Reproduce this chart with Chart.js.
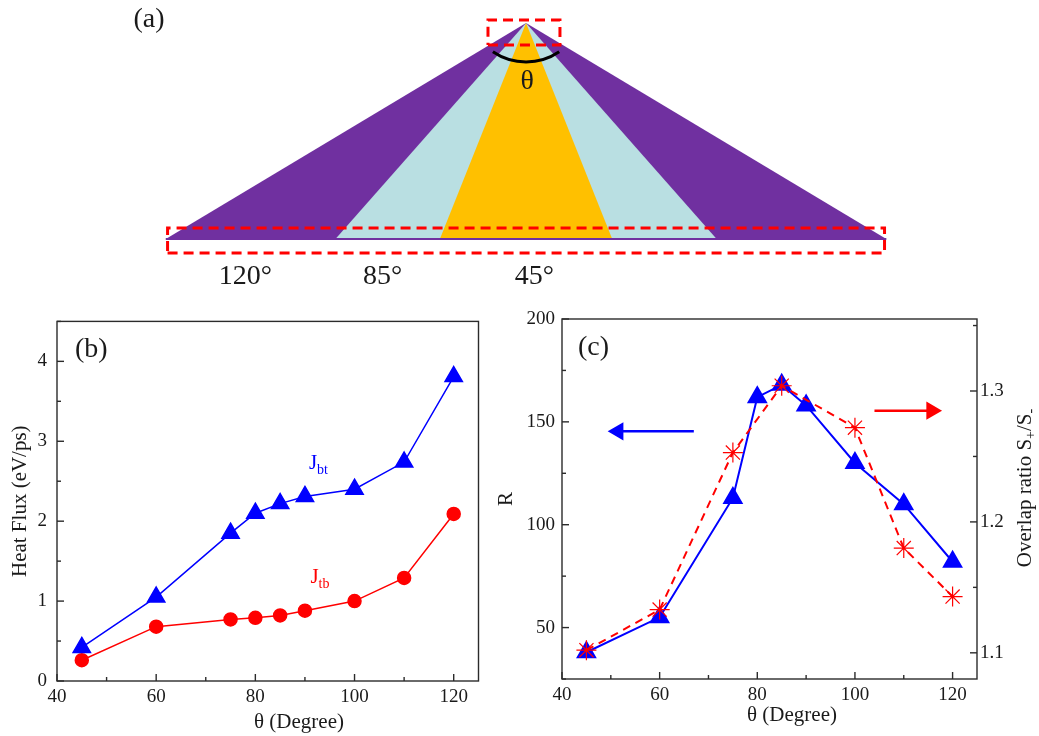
<!DOCTYPE html>
<html>
<head>
<meta charset="utf-8">
<title>Cone angle: heat flux and rectification</title>
<script src="https://cdn.jsdelivr.net/npm/chart.js@4.4.1/dist/chart.umd.min.js"></script>
<style>
  html, body { margin: 0; padding: 0; background: #fff; }
  #page { position: relative; width: 1039px; height: 736px; overflow: hidden; }
  canvas { position: absolute; }
  #cone { left: 0; top: 0; }
  #flux { left: 0; top: 300px; }
  #ratio { left: 490px; top: 300px; }
</style>
</head>
<body>
<div id="page">
  <canvas id="cone" width="1039" height="300"></canvas>
  <canvas id="flux" width="490" height="436"></canvas>
  <canvas id="ratio" width="549" height="436"></canvas>
</div>
<script>
/* ---- (a) cone sketch: full opening angles ---- */
const coneAngles = [120, 85, 45];
const coneColors = ['#7030a0', '#b9dfe2', '#ffc000'];
const coneLabelX = [-1.35, -0.69, 0.04];

/* ---- (b) heat flux ---- */
const thetaB = [45, 60, 75, 80, 85, 90, 100, 110, 120];
const fluxBT = [0.42, 1.05, 1.85, 2.10, 2.22, 2.31, 2.40, 2.74, 3.81];
const fluxTB = [0.26, 0.68, 0.77, 0.79, 0.82, 0.88, 1.00, 1.29, 2.09];

/* ---- (c) rectification ratio R and overlap ratio ---- */
const thetaR = [45, 60, 75, 80, 85, 90, 100, 110, 120];
const ratioR = [38, 55, 113, 162, 168, 158, 130, 110, 82];
const thetaS = [45, 60, 75, 85, 100, 110, 120];
const overlapS = [1.102, 1.133, 1.253, 1.304, 1.272, 1.180, 1.143];

// arrows telling which axis each curve belongs to
const arrowLeftX = [67, 51.5];
const arrowLeftY = [145.4, 145.4];
const arrowRightX = [104, 115.7];
const arrowRightY = [1.285, 1.285];

const BLUE = '#0000ff';
const RED = '#ff0000';
const family = "'Liberation Serif', 'Times New Roman', serif";

Chart.defaults.font.family = family;
Chart.defaults.color = '#1a1a1a';
Chart.defaults.animation = false;
Chart.defaults.events = [];

function pairs(xs, ys) {
    return xs.map((x, i) => ({ x, y: ys[i] }));
}

// closed frame plus inward tick marks (long for labelled ticks)
const frame = {
    id: 'frame',
    beforeDatasetsDraw(chart) {
        const { ctx, chartArea: a } = chart;
        ctx.save();
        ctx.strokeStyle = '#2b2b2b';
        ctx.lineWidth = 1.4;
        ctx.strokeRect(a.left, a.top, a.right - a.left, a.bottom - a.top);
        for (const s of Object.values(chart.scales)) {
            for (const t of s.ticks) {
                const len = t.label !== '' ? 7 : 4;
                const p = s.getPixelForValue(t.value);
                ctx.beginPath();
                if (s.position === 'bottom') { ctx.moveTo(p, a.bottom); ctx.lineTo(p, a.bottom - len); }
                if (s.position === 'left') { ctx.moveTo(a.left, p); ctx.lineTo(a.left + len, p); }
                if (s.position === 'right') { ctx.moveTo(a.right, p); ctx.lineTo(a.right - len, p); }
                ctx.stroke();
            }
        }
        ctx.restore();
    }
};

// free text with optional subscripts; runs = [[text, isSub], ...]
const notes = {
    id: 'notes',
    afterDatasetsDraw(chart, args, opts) {
        const ctx = chart.ctx;
        for (const n of opts.items || []) {
            const [x, y] = n.pos(chart);
            const big = `${n.size}px ${family}`;
            const small = `${Math.round(n.size * 0.68)}px ${family}`;
            let total = 0;
            for (const [t, sub] of n.runs) {
                ctx.font = sub ? small : big;
                total += ctx.measureText(t).width;
            }
            ctx.save();
            ctx.translate(x, y);
            if (n.rotate) ctx.rotate(n.rotate);
            ctx.fillStyle = n.color || '#1a1a1a';
            ctx.textBaseline = 'middle';
            ctx.textAlign = 'left';
            let cx = n.align === 'left' ? 0 : -total / 2;
            for (const [t, sub] of n.runs) {
                ctx.font = sub ? small : big;
                ctx.fillText(t, cx, sub ? n.size * 0.3 : 0);
                cx += ctx.measureText(t).width;
            }
            ctx.restore();
        }
    }
};

const at = (xv, yv, yId = 'y') => c => [c.scales.x.getPixelForValue(xv), c.scales[yId].getPixelForValue(yv)];

/* ================= (a) ================= */
const half = a => Math.tan(a / 2 * Math.PI / 180);
const wide = half(coneAngles[0]);

function dashedBox(x0, x1, y0, y1) {
    return {
        data: [{ x: x0, y: y0 }, { x: x1, y: y0 }, { x: x1, y: y1 }, { x: x0, y: y1 }, { x: x0, y: y0 }],
        borderColor: RED, borderWidth: 3, borderDash: [10, 6],
        pointRadius: 0, fill: false, tension: 0
    };
}

const coneSets = coneAngles.map((a, i) => ({
    data: [{ x: -half(a), y: 0 }, { x: 0, y: 1 }, { x: half(a), y: 0 }],
    backgroundColor: coneColors[i],
    borderColor: 'rgba(0,0,0,0)', borderWidth: 0,
    pointRadius: 0, tension: 0, fill: { value: 0 }
})).reverse();

const thetaArc = {
    id: 'thetaArc',
    afterDatasetsDraw(chart) {
        const { ctx, scales } = chart;
        const cx = scales.x.getPixelForValue(0);
        const cy = scales.y.getPixelForValue(1) - 20;
        ctx.save();
        ctx.strokeStyle = '#000';
        ctx.lineWidth = 3;
        ctx.beginPath();
        ctx.arc(cx, cy, 59, 0.31 * Math.PI, 0.69 * Math.PI);
        ctx.stroke();
        ctx.restore();
    }
};

new Chart(document.getElementById('cone'), {
    type: 'line',
    data: {
        datasets: [
            dashedBox(-0.183, 0.163, 0.898, 1.014),
            dashedBox(-wide * 0.995, wide * 0.995, -0.065, 0.051),
            {
                data: [{ x: -wide, y: 0 }, { x: wide, y: 0 }],
                borderColor: coneColors[0], borderWidth: 2, pointRadius: 0, fill: false
            },
            ...coneSets
        ]
    },
    options: {
        responsive: false,
        layout: { padding: 0 },
        scales: {
            x: { type: 'linear', display: false, min: -2.529, max: 2.466 },
            y: { type: 'linear', display: false, min: -0.282, max: 1.106 }
        },
        plugins: {
            legend: { display: false },
            tooltip: { enabled: false },
            notes: {
                items: [
                    { runs: [['(a)', 0]], size: 28, pos: c => [149, 20] },
                    { runs: [['θ', 0]], size: 28, pos: at(0.005, 0.73) },
                    ...coneAngles.map((a, i) => ({ runs: [[a + '°', 0]], size: 28, pos: at(coneLabelX[i], -0.176) }))
                ]
            }
        }
    },
    plugins: [thetaArc, notes]
});

/* ================= (b) ================= */
const tickFont = { size: 19 };
const titleFont = { size: 21 };

new Chart(document.getElementById('flux'), {
    type: 'line',
    data: {
        datasets: [
            {
                data: pairs(thetaB, fluxBT),
                borderColor: BLUE, borderWidth: 1.5,
                pointStyle: 'triangle', pointRadius: 10,
                pointBackgroundColor: BLUE, pointBorderColor: BLUE, tension: 0
            },
            {
                data: pairs(thetaB, fluxTB),
                borderColor: RED, borderWidth: 1.5,
                pointStyle: 'circle', pointRadius: 6.5,
                pointBackgroundColor: RED, pointBorderColor: RED, tension: 0
            }
        ]
    },
    options: {
        responsive: false,
        layout: { padding: { top: 17, right: 6, left: 0, bottom: 0 } },
        scales: {
            x: {
                type: 'linear', position: 'bottom', min: 40, max: 125,
                afterFit: s => { s.height = 55; },
                grid: { display: false, drawTicks: false }, border: { display: false },
                ticks: {
                    stepSize: 10, includeBounds: false, autoSkip: false, maxRotation: 0,
                    padding: 5, font: tickFont,
                    callback: v => v % 20 === 0 ? String(v) : ''
                }
            },
            y: {
                type: 'linear', position: 'left', min: 0, max: 4.5,
                afterFit: s => { s.width = 57; },
                grid: { display: false, drawTicks: false }, border: { display: false },
                ticks: {
                    stepSize: 0.5, includeBounds: false, autoSkip: false,
                    padding: 10, font: tickFont,
                    callback: v => Number.isInteger(v) ? String(v) : ''
                },
                title: { display: true, text: 'Heat Flux (eV/ps)', font: titleFont, padding: { top: 8, bottom: 0 } }
            }
        },
        plugins: {
            legend: { display: false },
            tooltip: { enabled: false },
            notes: {
                items: [
                    { runs: [['(b)', 0]], size: 28, align: 'left', pos: c => [c.chartArea.left + 18, c.chartArea.top + 28] },
                    { runs: [['θ (Degree)', 0]], size: 21, pos: c => [c.chartArea.left + 242, c.height - 14] },
                    { runs: [['J', 0], ['bt', 1]], size: 21, align: 'left', color: BLUE, pos: at(90.8, 2.72) },
                    { runs: [['J', 0], ['tb', 1]], size: 21, align: 'left', color: RED, pos: at(91.1, 1.29) }
                ]
            }
        }
    },
    plugins: [frame, notes]
});

/* ================= (c) ================= */
new Chart(document.getElementById('ratio'), {
    type: 'line',
    data: {
        datasets: [
            {
                data: pairs(thetaS, overlapS), yAxisID: 'yR',
                borderColor: RED, borderWidth: 2, borderDash: [8, 6],
                pointStyle: 'star', pointRadius: 10, pointBorderWidth: 1.2,
                pointBorderColor: RED, pointBackgroundColor: RED, tension: 0
            },
            {
                data: pairs(thetaR, ratioR), yAxisID: 'y',
                borderColor: BLUE, borderWidth: 2,
                pointStyle: 'triangle', pointRadius: 10,
                pointBackgroundColor: BLUE, pointBorderColor: BLUE, tension: 0
            },
            {
                data: pairs(arrowLeftX, arrowLeftY), yAxisID: 'y',
                borderColor: BLUE, borderWidth: 2.5,
                pointStyle: 'triangle', pointRadius: [0, 8], pointRotation: -90,
                pointBackgroundColor: BLUE, pointBorderColor: BLUE
            },
            {
                data: pairs(arrowRightX, arrowRightY), yAxisID: 'yR',
                borderColor: RED, borderWidth: 2.5,
                pointStyle: 'triangle', pointRadius: [0, 8], pointRotation: 90,
                pointBackgroundColor: RED, pointBorderColor: RED
            }
        ]
    },
    options: {
        responsive: false,
        layout: { padding: { top: 19, right: 0, left: 0, bottom: 0 } },
        scales: {
            x: {
                type: 'linear', position: 'bottom', min: 40, max: 125,
                afterFit: s => { s.height = 57; },
                grid: { display: false, drawTicks: false }, border: { display: false },
                ticks: {
                    stepSize: 10, includeBounds: false, autoSkip: false, maxRotation: 0,
                    padding: 5, font: tickFont,
                    callback: v => v % 20 === 0 ? String(v) : ''
                }
            },
            y: {
                type: 'linear', position: 'left', min: 25, max: 200,
                afterFit: s => { s.width = 72; },
                grid: { display: false, drawTicks: false }, border: { display: false },
                ticks: {
                    stepSize: 25, includeBounds: false, autoSkip: false,
                    padding: 7, font: tickFont,
                    callback: v => v % 50 === 0 ? String(v) : ''
                },
                title: { display: true, text: 'R', font: titleFont, padding: { top: 4, bottom: 0 } }
            },
            yR: {
                type: 'linear', position: 'right', min: 1.08, max: 1.355,
                afterFit: s => { s.width = 62; },
                grid: { display: false, drawTicks: false }, border: { display: false },
                ticks: {
                    stepSize: 0.05, includeBounds: false, autoSkip: false,
                    padding: 3, font: tickFont,
                    callback: v => Math.abs(v * 10 - Math.round(v * 10)) < 1e-6 ? v.toFixed(1) : ''
                }
            }
        },
        plugins: {
            legend: { display: false },
            tooltip: { enabled: false },
            notes: {
                items: [
                    { runs: [['(c)', 0]], size: 28, align: 'left', pos: c => [c.chartArea.left + 16, c.chartArea.top + 29] },
                    { runs: [['θ (Degree)', 0]], size: 21, pos: c => [c.chartArea.left + 230, c.height - 21] },
                    {
                        runs: [['Overlap ratio S', 0], ['+', 1], ['/S', 0], ['-', 1]],
                        size: 21, rotate: -Math.PI / 2,
                        pos: c => [c.scales.yR.right - 14, (c.chartArea.top + c.chartArea.bottom) / 2 - 11]
                    }
                ]
            }
        }
    },
    plugins: [frame, notes]
});
</script>
</body>
</html>
